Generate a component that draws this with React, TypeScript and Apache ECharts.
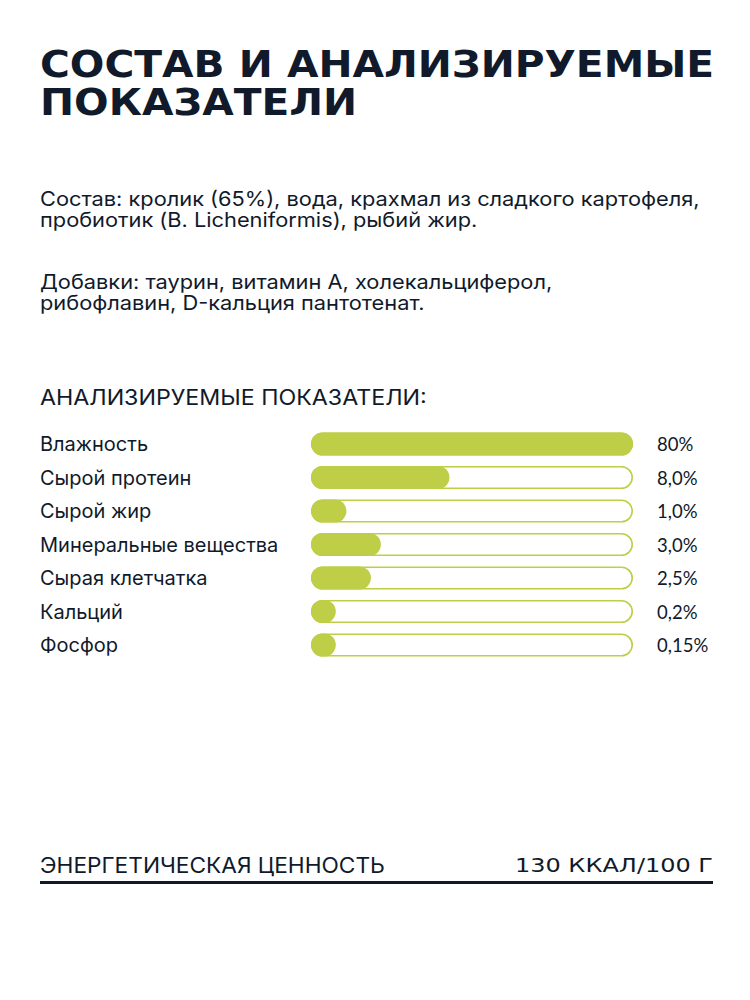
import React, { useEffect, useRef } from "react";
import * as echarts from "echarts";

const titleLines = ["СОСТАВ И АНАЛИЗИРУЕМЫЕ", "ПОКАЗАТЕЛИ"];
const compositionLines = [
  "Состав: кролик (65%), вода, крахмал из сладкого картофеля,",
  "пробиотик (B. Licheniformis), рыбий жир.",
];
const additivesLines = [
  "Добавки: таурин, витамин А, холекальциферол,",
  "рибофлавин, D-кальция пантотенат.",
];
const sectionHeading = "АНАЛИЗИРУЕМЫЕ ПОКАЗАТЕЛИ:";
const categories = [
  "Влажность",
  "Сырой протеин",
  "Сырой жир",
  "Минеральные вещества",
  "Сырая клетчатка",
  "Кальций",
  "Фосфор",
];
// visual fill level of each bar (0–100 of the track)
const fillValues = [100, 43, 11, 21.7, 18.6, 7.7, 7.7];
const trackValues = [100, 100, 100, 100, 100, 100, 100];
const valueLabels = ["80%", "8,0%", "1,0%", "3,0%", "2,5%", "0,2%", "0,15%"];
const energyLabel = "ЭНЕРГЕТИЧЕСКАЯ ЦЕННОСТЬ";
const energyValue = "130 ККАЛ/100 Г";

const DARK = "#101a2a";
const GREEN = "#bece46";

export default function App() {
  const ref = useRef<HTMLDivElement>(null);
  useEffect(() => {
    if (!ref.current) return;
    const chart = echarts.init(ref.current, null, { renderer: "svg" });
    const bodyFont = "20px Inter";
    const bodyScale = 1.09;
    const line = (text: string, x: number, y: number, font: string, extra: any = {}) => ({
      type: "text",
      x,
      y,
      scaleX: extra.scaleX ?? 1,
      style: {
        text,
        font,
        fill: DARK,
        verticalAlign: "middle",
        align: extra.align ?? "left",
      },
    });
    chart.setOption({
      animation: false,
      backgroundColor: "#ffffff",
      grid: { left: 311, right: 117, top: 427.25, height: 234.5 },
      xAxis: { type: "value", min: 0, max: 100, show: false },
      yAxis: {
        type: "category",
        data: categories,
        inverse: true,
        axisLine: { show: false },
        axisTick: { show: false },
        splitLine: { show: false },
        axisLabel: {
          align: "left",
          margin: 271,
          fontSize: 20,
          fontFamily: "Inter",
          color: DARK,
        },
      },
      series: [
        {
          type: "bar",
          data: trackValues,
          barWidth: 23,
          itemStyle: {
            color: "#ffffff",
            borderColor: GREEN,
            borderWidth: 1.6,
            borderRadius: 12,
          },
          label: {
            show: true,
            position: "right",
            distance: 24,
            formatter: (p: any) => valueLabels[p.dataIndex],
            fontSize: 18.5,
            fontFamily: "Lato",
            color: DARK,
          },
          silent: true,
        },
        {
          type: "bar",
          data: fillValues,
          barWidth: 23,
          barGap: "-100%",
          itemStyle: { color: GREEN, borderRadius: 12 },
          silent: true,
        },
      ],
      graphic: [
        line(titleLines[0], 40, 64, "900 37px 'DejaVu Sans'", { scaleX: 1.1 }),
        line(titleLines[1], 40, 102, "900 37px 'DejaVu Sans'", { scaleX: 1.1 }),
        line(compositionLines[0], 40, 199, bodyFont, { scaleX: bodyScale }),
        line(compositionLines[1], 40, 220, bodyFont, { scaleX: bodyScale }),
        line(additivesLines[0], 40, 282, bodyFont, { scaleX: bodyScale }),
        line(additivesLines[1], 40, 303, bodyFont, { scaleX: bodyScale }),
        line(sectionHeading, 40, 397, "21px Inter", { scaleX: 1.106 }),
        line(energyLabel, 40, 865, "21px Inter", { scaleX: 1.08 }),
        line(energyValue, 713, 865, "20px 'DejaVu Sans'", { scaleX: 1.2, align: "right" }),
        {
          type: "rect",
          shape: { x: 40, y: 881, width: 673, height: 3 },
          style: { fill: DARK },
        },
      ],
    });
    return () => chart.dispose();
  }, []);
  return (
    <div
      ref={ref}
      style={{ position: "absolute", left: 0, top: 0, width: 750, height: 1000 }}
    />
  );
}
